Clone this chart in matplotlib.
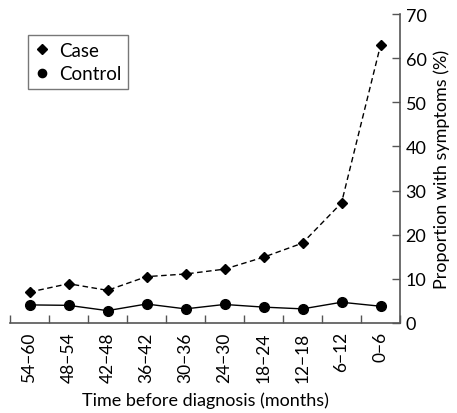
import matplotlib
matplotlib.use("Agg")
import matplotlib.pyplot as plt
import numpy as np

categories = ["54\u221260", "48\u221254", "42\u221248", "36\u221242", "30\u221236",
              "24\u221230", "18\u221224", "12\u221218", "6\u221212", "0\u22126"]
case_values = [7.0, 8.9, 7.4, 10.5, 11.1, 12.2, 14.9, 18.1, 27.2, 62.9]
control_values = [4.1, 4.0, 2.8, 4.3, 3.2, 4.2, 3.6, 3.2, 4.7, 3.8]
y_ticks = [0, 10, 20, 30, 40, 50, 60, 70]

plt.rcParams['font.family'] = ['Lato', 'DejaVu Sans']

fig = plt.figure(figsize=(4.57, 4.14), dpi=100)
ax = fig.add_axes([10/457, 90/414, 390/457, 309/414])

x = np.arange(len(categories)) + 0.5
ax.plot(x, case_values, linestyle=(0, (4, 2.5)), color='black', linewidth=1.0,
        marker='D', markersize=5.5, markerfacecolor='black', label='Case')
ax.plot(x, control_values, linestyle='-', color='black', linewidth=1.0,
        marker='o', markersize=7, markerfacecolor='black', label='Control')

ax.set_xlim(0, len(categories))
ax.set_ylim(0, 70)

for s in ['left', 'top']:
    ax.spines[s].set_visible(False)
ax.spines['right'].set_color('#555555')
ax.spines['bottom'].set_color('#555555')
ax.spines['right'].set_linewidth(1.2)
ax.spines['bottom'].set_linewidth(1.2)

ax.yaxis.tick_right()
ax.yaxis.set_label_position('right')
ax.set_yticks(y_ticks)
ax.tick_params(axis='y', direction='in', length=6, width=1, color='#555555',
               labelsize=13, pad=4, left=False, right=True)

ax.set_xticks(np.arange(len(categories) + 1))
ax.set_xticklabels([])
ax.set_xticks(x, minor=True)
ax.set_xticklabels(categories, minor=True, rotation=90, fontsize=12.5)
ax.tick_params(axis='x', which='major', direction='in', length=6, width=1, color='#555555')
ax.tick_params(axis='x', which='minor', length=0, pad=6)

ax.set_xlabel('Time before diagnosis (months)', fontsize=13, labelpad=7)
ax.set_ylabel('Proportion with symptoms (%)', fontsize=13, labelpad=5)

leg = ax.legend(loc='upper left', bbox_to_anchor=(18/390, 1 - 21/309), frameon=True,
                fancybox=False, edgecolor='#555555', fontsize=13.5, handlelength=0.8,
                handletextpad=0.5, borderpad=0.35, labelspacing=0.35,
                borderaxespad=0, markerscale=0.85)
leg.get_frame().set_linewidth(1.0)
for h in leg.legend_handles:
    h.set_linestyle('none')

fig.savefig('out.png', dpi=100)
